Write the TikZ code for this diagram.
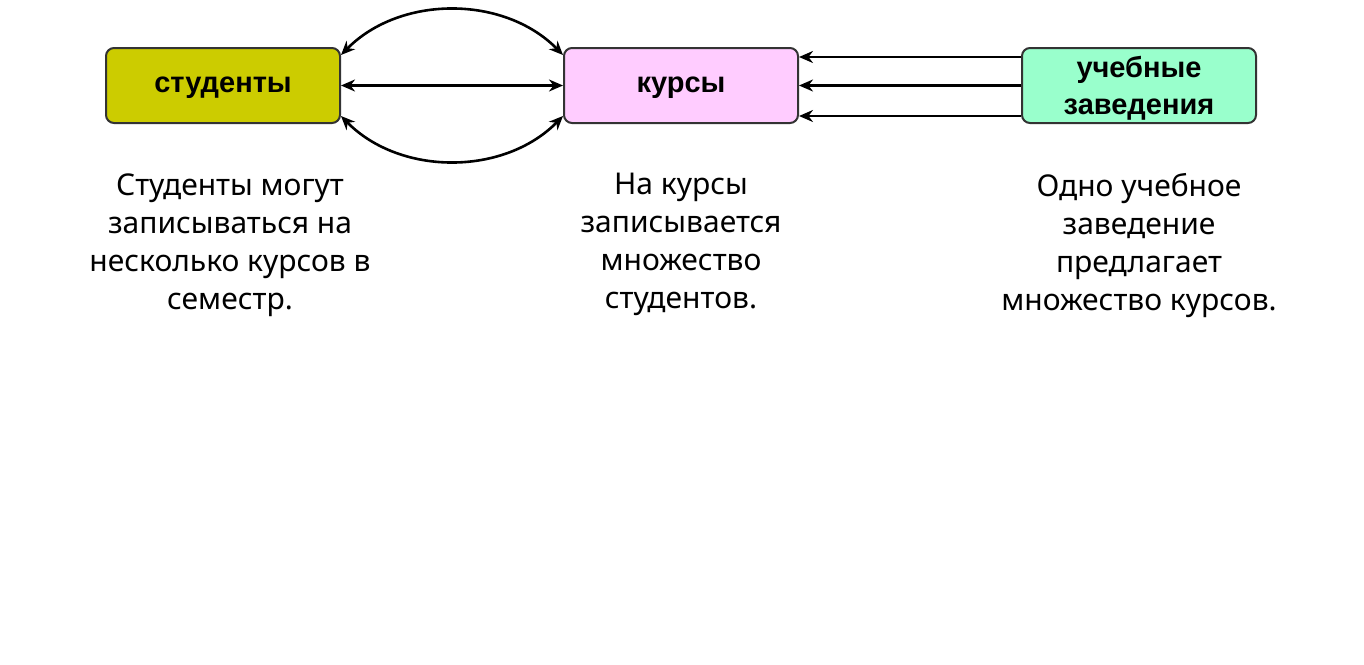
\documentclass[tikz,border=0pt]{standalone}
\usepackage{fontspec}
\setmainfont{Noto Sans}
\newfontfamily\boxfont{Liberation Sans}
\usetikzlibrary{arrows.meta}
\definecolor{olive}{HTML}{CCCC00}
\definecolor{pinkc}{HTML}{FFCCFF}
\definecolor{mint}{HTML}{99FFCC}
\definecolor{edge}{HTML}{333333}
\begin{document}
\begin{tikzpicture}[x=1pt,y=-1pt,
  box/.style={draw=edge,line width=2pt,rounded corners=8pt,minimum width=234pt,minimum height=75pt,inner sep=0pt,align=center,font=\boxfont\fontsize{29}{37}\selectfont\bfseries},
  lbl/.style={align=center,font=\boxfont\fontsize{29}{37}\selectfont\bfseries,inner sep=0pt},
  desc/.style={align=center,font=\fontsize{30}{38}\selectfont,anchor=north},
  arr/.style={line width=2.6pt,-{Stealth[length=14pt,width=12pt]}},
  darr/.style={line width=2.6pt,{Stealth[length=14pt,width=12pt]}-{Stealth[length=14pt,width=12pt]}}]
\useasboundingbox (0,0) rectangle (1364,664);
\fill[white] (0,0) rectangle (1364,664);
\node[box,fill=olive] (s) at (223,85.5) {};
\node[box,fill=pinkc] (k) at (681,85.5) {};
\node[box,fill=mint] (u) at (1139,85.5) {};
\node[lbl] (ls) at (223,88) {студенты};
\node[lbl] (lk) at (681,88) {курсы};
\node[lbl] (lu) at (1139,88) {учебные\\заведения};
\draw[darr] ([yshift=-8pt]s.north east) .. controls (400,-5) and (504,-5) .. ([yshift=-8pt]k.north west);
\draw[darr] (s.east) -- (k.west);
\draw[darr] ([yshift=8pt]s.south east) .. controls (400,176) and (504,176) .. ([yshift=8pt]k.south west);
\draw[arr] ([yshift=-10pt]u.north west) -- ([yshift=-10pt]k.north east);
\draw[arr] (u.west) -- (k.east);
\draw[arr] ([yshift=8pt]u.south west) -- ([yshift=8pt]k.south east);
\node[desc] (ds) at (230,170) {Студенты могут\\записываться на\\несколько курсов в\\семестр.};
\node[desc] (dk) at (681,170) {На курсы\\записывается\\множество\\студентов.};
\node[desc] (du) at (1139,170) {Одно учебное\\заведение\\предлагает\\множество курсов.};
\end{tikzpicture}
\end{document}
